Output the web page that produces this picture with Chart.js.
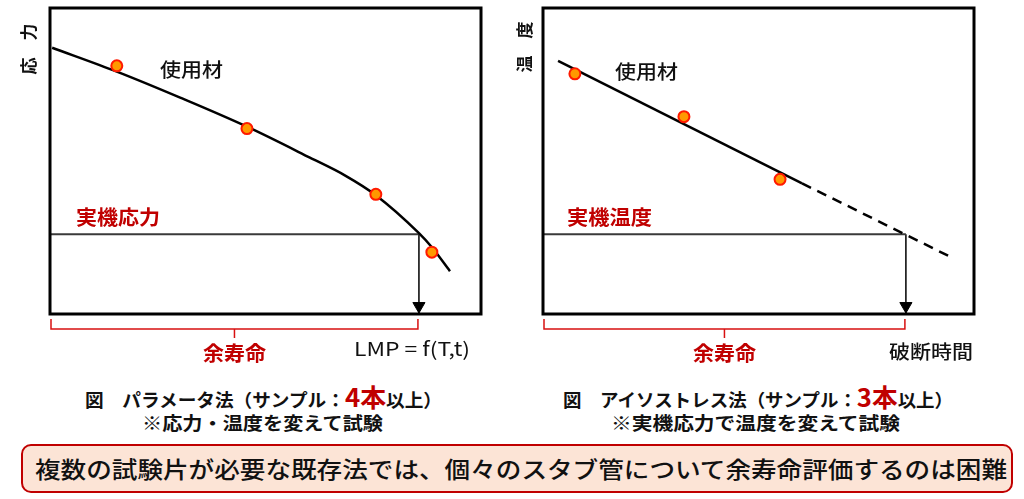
<!DOCTYPE html>
<html>
<head>
<meta charset="utf-8">
<script src="https://cdn.jsdelivr.net/npm/chart.js@4"></script>
<style>
  html, body { margin: 0; padding: 0; background: #fff; }
  body { width: 1024px; height: 499px; position: relative; overflow: hidden;
         font-family: "Noto Sans CJK JP", "Noto Sans", sans-serif; color: #111; }
  canvas { position: absolute; top: 0; }
  #lmpChart { left: 0; }
  #isoChart { left: 512px; }
  .cap { position: absolute; white-space: nowrap; font-size: 18px; font-weight: 700;
         line-height: 1; transform-origin: left center; }
  .cap .num { color: #C00000; font-size: 25px; font-weight: 700; }
  #note { position: absolute; left: 21px; top: 444px; width: 988px; height: 45px;
          border: 2px solid #C00000; border-radius: 10px; background: #FCE4D6; }
  #noteText { position: absolute; left: 12px; top: 11px; white-space: nowrap; font-size: 23px;
              font-weight: 500; line-height: 1; transform-origin: left center; }
</style>
</head>
<body>
<canvas id="lmpChart" width="512" height="370"></canvas>
<canvas id="isoChart" width="512" height="370"></canvas>

<div class="cap" id="capL1" style="left:85px; top:384px;">図　パラメータ法（サンプル：<span class="num">4本</span>以上）</div>
<div class="cap" id="capL2" style="left:142px; top:413px;">※応力・温度を変えて試験</div>
<div class="cap" id="capR1" style="left:563px; top:384px;">図　アイソストレス法（サンプル：<span class="num">3本</span>以上）</div>
<div class="cap" id="capR2" style="left:611px; top:413px;">※実機応力で温度を変えて試験</div>

<div id="note"><div id="noteText">複数の試験片が必要な既存法では、個々のスタブ管について余寿命評価するのは困難</div></div>

<script>
// left: parameter (LMP) method, 0..100 on both axes
const lmpCurveX = [0.5, 15.5, 30.2, 45.7, 60.3, 68.4, 75.6, 85.6, 88.6, 92.8];
const lmpCurveY = [87.0, 79.2, 70.7, 61.2, 51.1, 45.3, 38.8, 26.4, 21.8, 14.0];
const lmpSampleX = [15.5, 45.7, 75.6, 88.6];
const lmpSampleY = [81.1, 60.6, 39.1, 20.2];
const actualStress = 26.1;
const lmpLife = 85.6;

// right: isostress method
const isoLineX = [3.5, 60.1];
const isoLineY = [82.7, 42.7];
const isoDashX = [60.1, 94.2];
const isoDashY = [42.7, 18.9];
const isoSampleX = [7.4, 32.7, 55.0];
const isoSampleY = [78.5, 64.5, 44.0];
const actualTemp = 26.1;
const isoLife = 84.2;

const RED = '#C00000';
const JP = '"Noto Sans CJK JP", "Noto Sans", sans-serif';

const pts = (xs, ys) => xs.map((x, i) => ({ x: x, y: ys[i] }));

function label(ctx, s, x, y, font, color, w, align) {
    ctx.save();
    ctx.font = font;
    const k = w ? w / ctx.measureText(s).width : 1;
    ctx.translate(x, y);
    ctx.scale(k, 1);
    ctx.textAlign = align || 'left';
    ctx.textBaseline = 'middle';
    ctx.fillStyle = color;
    ctx.fillText(s, 0, 0);
    ctx.restore();
}

function vlabel(ctx, s, x, y) {
    ctx.save();
    ctx.font = 'bold 17px ' + JP;
    ctx.translate(x, y);
    ctx.rotate(-Math.PI / 2);
    ctx.textAlign = 'center';
    ctx.textBaseline = 'middle';
    ctx.fillStyle = '#111';
    ctx.fillText(s, 0, 0);
    ctx.restore();
}

// red brace under the axis, from the left edge to the life value
function brace(ctx, x0, x1, top) {
    const mid = (x0 + x1) / 2;
    ctx.save();
    ctx.strokeStyle = '#D81010';
    ctx.lineWidth = 1.5;
    ctx.beginPath();
    ctx.moveTo(x0, top);
    ctx.lineTo(x0, top + 10);
    ctx.lineTo(x1, top + 10);
    ctx.lineTo(x1, top);
    ctx.moveTo(mid, top + 10);
    ctx.lineTo(mid, top + 19);
    ctx.stroke();
    ctx.restore();
    return mid;
}

function frame(chart) {
    const a = chart.chartArea;
    const ctx = chart.ctx;
    ctx.save();
    ctx.strokeStyle = '#000';
    ctx.lineWidth = 3;
    ctx.strokeRect(a.left, a.top, a.right - a.left, a.bottom - a.top);
    ctx.restore();
}

function datasets(line, dash, samples, level, life) {
    const sets = [
        { data: samples, showLine: false, pointRadius: 5.5, pointBorderWidth: 2,
          pointBackgroundColor: '#FF9900', pointBorderColor: '#FF1A00', order: 0 },
        { data: line, showLine: true, borderColor: '#000', borderWidth: 2.5, pointRadius: 0,
          cubicInterpolationMode: 'monotone', order: 2 },
        { data: [{ x: 0, y: level }, { x: life, y: level }], showLine: true,
          borderColor: '#3a3a3a', borderWidth: 2, pointRadius: 0, order: 3 },
        { data: [{ x: life, y: level }, { x: life, y: 0 }], showLine: true,
          borderColor: '#000', borderWidth: 1.5, pointRadius: 0, order: 3 },
        { data: [{ x: life, y: 2.6 }], showLine: false, pointStyle: 'triangle', rotation: 180,
          pointRadius: 7, pointBackgroundColor: '#000', pointBorderColor: '#000',
          pointBorderWidth: 1, order: 1 }
    ];
    if (dash) {
        sets.push({ data: dash, showLine: true, borderColor: '#000', borderWidth: 2.5,
                    borderDash: [10, 7], pointRadius: 0, order: 2 });
    }
    return sets;
}

function options(padding) {
    return {
        responsive: false,
        animation: false,
        layout: { padding: padding },
        plugins: { legend: { display: false }, tooltip: { enabled: false } },
        scales: {
            x: { type: 'linear', min: 0, max: 100, display: false },
            y: { type: 'linear', min: 0, max: 100, display: false }
        }
    };
}

const lmpDecor = {
    id: 'lmpDecor',
    afterDraw(chart) {
        const ctx = chart.ctx;
        frame(chart);
        const xl = chart.scales.x.getPixelForValue(lmpLife);
        const mid = brace(ctx, chart.chartArea.left + 1, xl - 1, 319);
        vlabel(ctx, '応　力', 29, 49);
        label(ctx, '使用材', 160, 70, '500 19px ' + JP, '#111', 63);
        label(ctx, '実機応力', 76, 217, 'bold 20px ' + JP, RED, 84);
        label(ctx, '余寿命', mid, 353, 'bold 20px ' + JP, RED, 63, 'center');
        label(ctx, 'LMP = f(T,t)', 354, 349, '19px ' + JP, '#111', 116);
    }
};

const isoDecor = {
    id: 'isoDecor',
    afterDraw(chart) {
        const ctx = chart.ctx;
        frame(chart);
        const xl = chart.scales.x.getPixelForValue(isoLife);
        const mid = brace(ctx, chart.chartArea.left + 1, xl - 1, 319);
        vlabel(ctx, '温　度', 12.5, 47);
        label(ctx, '使用材', 103, 72, '500 19px ' + JP, '#111', 63);
        label(ctx, '実機温度', 55, 217, 'bold 20px ' + JP, RED, 85);
        label(ctx, '余寿命', mid, 353, 'bold 20px ' + JP, RED, 63, 'center');
        label(ctx, '破断時間', 377, 352, '500 19px ' + JP, '#111', 84);
    }
};

new Chart(document.getElementById('lmpChart'), {
    type: 'scatter',
    data: { datasets: datasets(pts(lmpCurveX, lmpCurveY), null,
                               pts(lmpSampleX, lmpSampleY), actualStress, lmpLife) },
    options: options({ left: 50, right: 31, top: 7, bottom: 56 }),
    plugins: [lmpDecor]
});

new Chart(document.getElementById('isoChart'), {
    type: 'scatter',
    data: { datasets: datasets(pts(isoLineX, isoLineY), pts(isoDashX, isoDashY),
                               pts(isoSampleX, isoSampleY), actualTemp, isoLife) },
    options: options({ left: 31, right: 50, top: 7, bottom: 56 }),
    plugins: [isoDecor]
});

// squeeze the captions to the widths of the condensed font in the picture
function fit(id, w) {
    const el = document.getElementById(id);
    el.style.transform = '';
    const k = w / el.getBoundingClientRect().width;
    el.style.transform = 'scaleX(' + k + ')';
}
fit('capL1', 357);
fit('capL2', 241);
fit('capR1', 390);
fit('capR2', 289);
fit('noteText', 972);
</script>
</body>
</html>
